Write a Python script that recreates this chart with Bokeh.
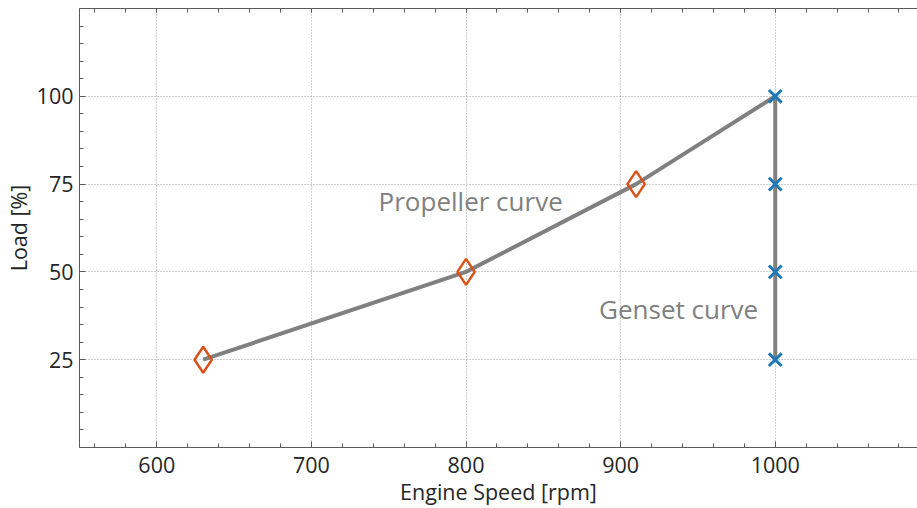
from bokeh.plotting import figure
from bokeh.models import Range1d, FixedTicker, LinearAxis, Label
from bokeh.embed import file_html
from bokeh.resources import INLINE

# Data
prop_speed = [630, 800, 910, 1000]
prop_load = [25, 50, 75, 100]
genset_speed = [1000, 1000, 1000, 1000]
genset_load = [25, 50, 75, 100]
x_ticks = [600, 700, 800, 900, 1000, 1100]
y_ticks = [25, 50, 75, 100]
x_minor = list(range(560, 1100, 20))
y_minor = list(range(0, 126, 5))

FONT = "Open Sans"
TXT = "#262626"
AX = "#5a5a5a"

p = figure(width=917, height=508, output_backend="svg", toolbar_location=None,
           x_range=Range1d(550, 1092), y_range=Range1d(0, 125),
           min_border_left=77, min_border_right=0, min_border_top=8,
           min_border_bottom=60)
p.outline_line_color = None
p.background_fill_color = "white"
p.border_fill_color = "white"

xt = FixedTicker(ticks=x_ticks, minor_ticks=x_minor)
yt = FixedTicker(ticks=y_ticks, minor_ticks=y_minor)

for ax in p.xaxis:
    ax.ticker = xt
    ax.axis_label = "Engine Speed [rpm]"
for ax in p.yaxis:
    ax.ticker = yt
    ax.axis_label = "Load [%]"

for ax in list(p.xaxis) + list(p.yaxis):
    ax.axis_line_color = AX
    ax.major_tick_line_color = AX
    ax.minor_tick_line_color = AX
    ax.major_tick_in = 6
    ax.major_tick_out = 0
    ax.minor_tick_in = 4
    ax.minor_tick_out = 0
    ax.major_label_text_font = FONT
    ax.major_label_text_font_size = "21.5px"
    ax.major_label_text_color = TXT
    ax.axis_label_text_font = FONT
    ax.axis_label_text_font_size = "21.5px"
    ax.axis_label_text_font_style = "normal"
    ax.axis_label_text_color = TXT

for ax in p.xaxis:
    ax.major_label_standoff = 9
    ax.axis_label_standoff = 1
for ax in p.yaxis:
    ax.major_label_standoff = 6
    ax.axis_label_standoff = 1

# top frame edge with inward ticks only (no labels)
top = LinearAxis(ticker=FixedTicker(ticks=[], minor_ticks=x_minor + x_ticks),
                 axis_line_color=AX, minor_tick_line_color=AX,
                 minor_tick_in=4, minor_tick_out=0,
                 major_tick_in=0, major_tick_out=0, major_label_standoff=0)
p.add_layout(top, "above")

p.xgrid.ticker = xt
p.ygrid.ticker = yt
for g in [p.xgrid, p.ygrid]:
    g.grid_line_color = "#a0a0a0"
    g.grid_line_dash = "1 2"
    g.grid_line_width = 1

p.line(prop_speed, prop_load, line_color="#808080", line_width=4)
p.line(genset_speed, genset_load, line_color="#808080", line_width=4)
p.scatter(prop_speed[:3], prop_load[:3], marker="diamond", size=26,
          fill_color=None, line_color="#D95319", line_width=2.5)
p.scatter(genset_speed, genset_load, marker="x", size=18,
          line_color="#1F77B4", line_width=3)

p.add_layout(Label(x=803, y=70.2, text="Propeller curve", text_align="center",
                   text_baseline="middle", text_color="#808080",
                   text_font=FONT, text_font_size="26px"))
p.add_layout(Label(x=937.5, y=39.5, text="Genset curve", text_align="center",
                   text_baseline="middle", text_color="#808080",
                   text_font=FONT, text_font_size="26px"))

open("out.html", "w").write(file_html(p, INLINE))
